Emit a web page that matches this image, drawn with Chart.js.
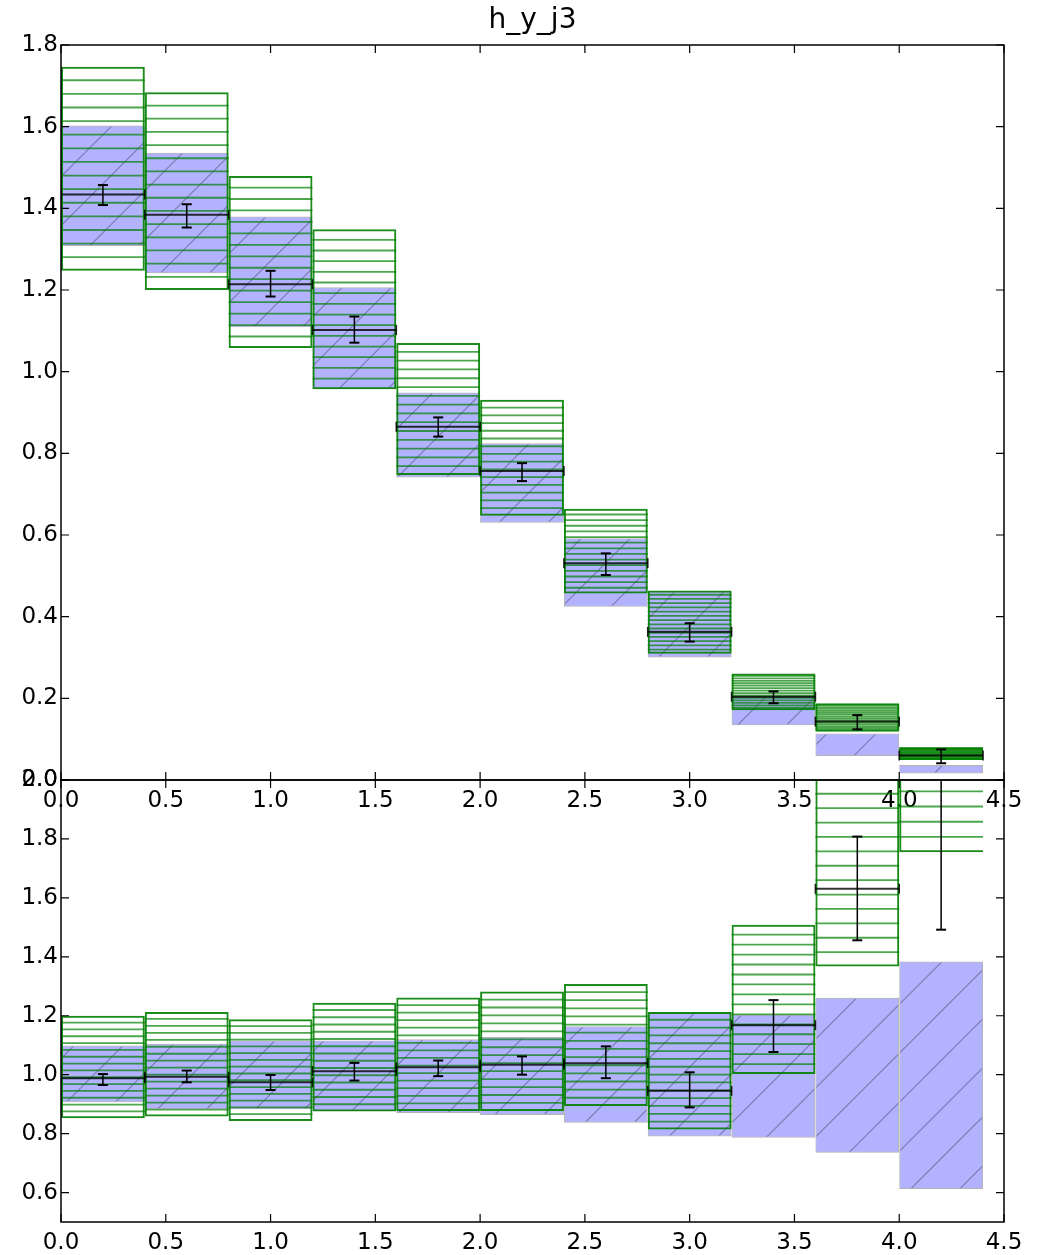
<!DOCTYPE html>
<html><head><meta charset="utf-8">
<script src="https://cdn.jsdelivr.net/npm/chart.js@4.4.1/dist/chart.umd.min.js"></script>
<style>
html,body{margin:0;padding:0;background:#fff;}
#wrap{position:relative;width:1039px;height:1255px;}
canvas{position:absolute;left:0;top:0;}
</style></head><body>
<div id="wrap">
<canvas id="topChart" width="1039" height="1255"></canvas>
<canvas id="botChart" width="1039" height="1255"></canvas>
</div>
<script>
// ---------- data ----------
const binEdges = [0.0,0.4,0.8,1.2,1.6,2.0,2.4,2.8,3.2,3.6,4.0,4.4];
const xTicks = [0.0,0.5,1.0,1.5,2.0,2.5,3.0,3.5,4.0,4.5];
const topYTicks = [0.0,0.2,0.4,0.6,0.8,1.0,1.2,1.4,1.6,1.8];
const botYTicks = [0.6,0.8,1.0,1.2,1.4,1.6,1.8,2.0];

// upper panel (distribution)
const topBlueLo  = [1.308,1.241,1.109,0.957,0.741,0.630,0.424,0.300,0.134,0.059,0.016];
const topBlueHi  = [1.603,1.536,1.380,1.207,0.949,0.825,0.592,0.462,0.206,0.114,0.037];
const topGreenLo = [1.247,1.200,1.058,0.957,0.747,0.647,0.457,0.309,0.171,0.118,0.049];
const topGreenHi = [1.747,1.684,1.479,1.349,1.070,0.931,0.664,0.464,0.261,0.188,0.080];
const topData    = [1.434,1.384,1.214,1.102,0.865,0.757,0.531,0.363,0.204,0.143,0.060];
const topErrLo   = [1.408,1.353,1.184,1.071,0.841,0.732,0.502,0.339,0.188,0.124,0.041];
const topErrHi   = [1.457,1.410,1.247,1.135,0.888,0.776,0.555,0.384,0.217,0.159,0.075];

// lower panel (ratio)
const botBlueLo  = [0.906,0.883,0.883,0.877,0.870,0.863,0.837,0.790,0.786,0.735,0.612];
const botBlueHi  = [1.099,1.105,1.116,1.116,1.120,1.128,1.164,1.213,1.204,1.261,1.384];
const botGreenLo = [0.852,0.858,0.843,0.875,0.877,0.877,0.894,0.814,1.002,1.367,1.755];
const botGreenHi = [1.200,1.213,1.188,1.244,1.262,1.282,1.308,1.213,1.509,2.100,2.530];
const botData    = [0.988,0.993,0.974,1.012,1.025,1.034,1.039,0.945,1.168,1.631,2.200];
const botErrLo   = [0.965,0.974,0.948,0.980,0.995,1.000,0.988,0.889,1.077,1.456,1.492];
const botErrHi   = [1.002,1.014,0.999,1.040,1.048,1.062,1.096,1.008,1.253,1.808,2.900];

// ---------- styles ----------
const FONT = "'DejaVu Sans', 'Liberation Sans', sans-serif";
const TICK_FONT = {family: FONT, size: 23};
const GREEN_LINES = 15;

function makeHatch() {
  const s = 49, phase = 41.6;
  const c = document.createElement('canvas');
  c.width = s; c.height = s;
  const g = c.getContext('2d');
  g.fillStyle = 'rgba(0,0,255,0.3)';
  g.fillRect(0, 0, s, s);
  g.strokeStyle = 'rgba(0,0,0,0.3)';
  g.lineWidth = 1.2;
  for (const k of [phase - s, phase, phase + s]) {
    g.beginPath();
    g.moveTo(k + 10, -10);
    g.lineTo(k - s - 10, s + 10);
    g.stroke();
  }
  return g.createPattern(c, 'repeat');
}
const hatch = makeHatch();

const centers = binEdges.slice(0, -1).map((e, i) => (e + binEdges[i + 1]) / 2);

function bandPoints(lo, hi) {
  return centers.map((c, i) => ({x: c, y: [lo[i], hi[i]]}));
}
function centralPoints(vals) {
  const pts = [];
  vals.forEach((v, i) => {
    pts.push({x: binEdges[i], y: v}, {x: binEdges[i + 1], y: v}, {x: binEdges[i + 1], y: null});
  });
  return pts;
}
function errPoints(lo, hi) {
  const pts = [];
  centers.forEach((c, i) => {
    pts.push({x: c, y: lo[i]}, {x: c, y: hi[i]}, {x: c, y: null});
  });
  return pts;
}

// horizontal line "hatch" inside the green envelopes
const greenHatch = {
  id: 'greenHatch',
  afterDatasetDraw(chart, args) {
    const ds = chart.data.datasets[args.index];
    if (!ds.hatchLines) return;
    const ctx = chart.ctx, a = chart.chartArea;
    ctx.save();
    ctx.beginPath();
    ctx.rect(a.left, a.top, a.right - a.left, a.bottom - a.top);
    ctx.clip();
    ctx.strokeStyle = 'rgba(0,128,0,0.7)';
    ctx.lineWidth = 1.8;
    for (const el of args.meta.data) {
      const p = el.getProps(['x', 'y', 'base', 'width'], true);
      const t = Math.min(p.y, p.base), b = Math.max(p.y, p.base);
      const l = p.x - p.width / 2, r = p.x + p.width / 2;
      const n = ds.hatchLines;
      for (let k = 1; k < n; k++) {
        const yy = t + (b - t) * k / n;
        ctx.beginPath();
        ctx.moveTo(l, yy);
        ctx.lineTo(r, yy);
        ctx.stroke();
      }
    }
    ctx.restore();
  }
};

// frame with inward ticks on all four sides
const frame = {
  id: 'frame',
  afterDraw(chart) {
    const {ctx, chartArea: a, scales: {x, y}} = chart;
    ctx.save();
    ctx.strokeStyle = '#000';
    ctx.lineWidth = 1.5;
    ctx.strokeRect(a.left, a.top, a.right - a.left, a.bottom - a.top);
    const L = 8;
    ctx.lineWidth = 1.2;
    ctx.beginPath();
    x.ticks.forEach(t => {
      const px = x.getPixelForValue(t.value);
      ctx.moveTo(px, a.bottom); ctx.lineTo(px, a.bottom - L);
      ctx.moveTo(px, a.top); ctx.lineTo(px, a.top + L);
    });
    y.ticks.forEach(t => {
      const py = y.getPixelForValue(t.value);
      ctx.moveTo(a.left, py); ctx.lineTo(a.left + L, py);
      ctx.moveTo(a.right, py); ctx.lineTo(a.right - L, py);
    });
    ctx.stroke();
    ctx.restore();
  }
};

function makeChart(id, cfg) {
  const n = centers.length;
  const datasets = [
    {type: 'line', data: centralPoints(cfg.data), borderColor: 'rgba(0,0,0,0.8)', borderWidth: 2,
     pointStyle: 'line', pointRotation: 90, pointRadius: 5, pointBorderWidth: 1.6,
     pointBorderColor: 'rgba(0,0,0,0.85)', pointBackgroundColor: 'rgba(0,0,0,0)', spanGaps: false, fill: false},
    {type: 'line', data: errPoints(cfg.errLo, cfg.errHi), borderColor: '#000', borderWidth: 1.5,
     pointStyle: 'line', pointRotation: 0, pointRadius: 5, pointBorderWidth: 2,
     pointBorderColor: '#000', pointBackgroundColor: 'rgba(0,0,0,0)', spanGaps: false, fill: false},
    {type: 'bar', data: bandPoints(cfg.greenLo, cfg.greenHi), hatchLines: GREEN_LINES,
     backgroundColor: 'rgba(0,0,0,0)', borderColor: 'rgba(0,128,0,0.9)', borderWidth: 2,
     borderSkipped: c => (c.dataIndex === n - 1 ? 'right' : false),
     grouped: false, barPercentage: 1, categoryPercentage: 1, inflateAmount: 0},
    {type: 'bar', data: bandPoints(cfg.blueLo, cfg.blueHi),
     backgroundColor: hatch, borderColor: 'rgba(0,0,0,0.3)', borderWidth: 1, borderSkipped: false,
     grouped: false, barPercentage: 1, categoryPercentage: 1, inflateAmount: 0}
  ];
  return new Chart(document.getElementById(id), {
    type: 'bar',
    data: {datasets},
    plugins: [greenHatch, frame],
    options: {
      responsive: false,
      animation: false,
      events: [],
      layout: {padding: cfg.padding},
      plugins: {
        legend: {display: false},
        tooltip: {enabled: false},
        title: cfg.title ? {
          display: true, text: cfg.title, color: '#000', fullSize: false,
          font: {family: FONT, size: 28, weight: 'normal', lineHeight: 1.2},
          padding: {top: 4, bottom: 7.4}
        } : {display: false}
      },
      scales: {
        x: {
          type: 'linear', min: 0, max: 4.5, offset: false,
          afterBuildTicks: s => { s.ticks = xTicks.map(v => ({value: v})); },
          ticks: {callback: v => Number(v).toFixed(1), font: TICK_FONT, color: '#000',
                  padding: 7, autoSkip: false, maxRotation: 0},
          grid: {display: false, drawTicks: false},
          border: {display: false},
          afterFit: s => { s.height = cfg.xHeight; s.paddingLeft = 0; s.paddingRight = 0; }
        },
        y: {
          type: 'linear', min: cfg.yMin, max: cfg.yMax,
          afterBuildTicks: s => { s.ticks = cfg.yTicks.map(v => ({value: v})); },
          ticks: {callback: v => Number(v).toFixed(1), font: TICK_FONT, color: '#000',
                  padding: 3, autoSkip: false},
          grid: {display: false, drawTicks: false},
          border: {display: false},
          afterFit: s => { s.width = 61; s.paddingTop = 0; s.paddingBottom = 0; }
        }
      }
    }
  });
}

makeChart('topChart', {
  data: topData, errLo: topErrLo, errHi: topErrHi,
  greenLo: topGreenLo, greenHi: topGreenHi, blueLo: topBlueLo, blueHi: topBlueHi,
  yMin: 0, yMax: 1.8, yTicks: topYTicks, title: 'h_y_j3',
  xHeight: 34, padding: {left: 0, right: 35, top: 0, bottom: 1255 - 780 - 34}
});
makeChart('botChart', {
  data: botData, errLo: botErrLo, errHi: botErrHi,
  greenLo: botGreenLo, greenHi: botGreenHi, blueLo: botBlueLo, blueHi: botBlueHi,
  yMin: 0.5, yMax: 2.0, yTicks: botYTicks, title: null,
  xHeight: 33, padding: {left: 0, right: 35, top: 780, bottom: 0}
});
</script>
</body></html>
